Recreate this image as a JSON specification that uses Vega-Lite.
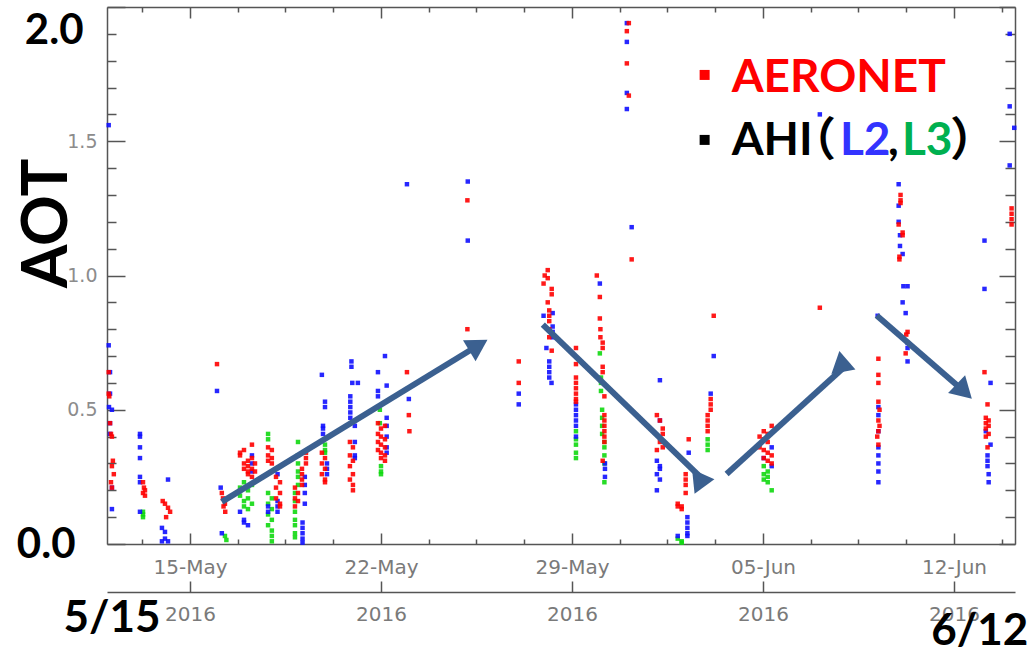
{
  "$schema": "https://vega.github.io/schema/vega-lite/v6.json",
  "width": 908,
  "height": 537,
  "autosize": {"type": "none"},
  "padding": {"left": 107, "top": 7, "right": 19, "bottom": 110},
  "background": "white",
  "config": {
    "view": {"stroke": null},
    "axis": {"grid": false, "domainColor": "#555555", "domainWidth": 1.5, "tickColor": "#555555", "tickWidth": 1.5, "labelFont": "DejaVu Sans", "labelColor": "#808080"}
  },
  "datasets": {
    "pts": [
      {"t":"2016-05-13T06:40Z","v":0.12,"s":"L3"},{"t":"2016-05-13T06:40Z","v":0.11,"s":"L3"},{"t":"2016-05-13T06:40Z","v":0.10,"s":"L3"},
      {"t":"2016-05-16T06:45Z","v":0.03,"s":"L3"},{"t":"2016-05-16T08:00Z","v":0.015,"s":"L3"},
      {"t":"2016-05-16T20:00Z","v":0.21,"s":"L3"},{"t":"2016-05-16T20:00Z","v":0.18,"s":"L3"},
      {"t":"2016-05-16T23:30Z","v":0.23,"s":"L3"},{"t":"2016-05-16T23:30Z","v":0.16,"s":"L3"},{"t":"2016-05-16T23:30Z","v":0.14,"s":"L3"},
      {"t":"2016-05-17T03:00Z","v":0.20,"s":"L3"},{"t":"2016-05-17T03:00Z","v":0.17,"s":"L3"},{"t":"2016-05-17T03:00Z","v":0.13,"s":"L3"},
      {"t":"2016-05-17T06:30Z","v":0.22,"s":"L3"},{"t":"2016-05-17T06:30Z","v":0.15,"s":"L3"},
      {"t":"2016-05-17T20:40Z","v":0.41,"s":"L3"},{"t":"2016-05-17T20:40Z","v":0.39,"s":"L3"},{"t":"2016-05-17T20:40Z","v":0.19,"s":"L3"},{"t":"2016-05-17T20:40Z","v":0.15,"s":"L3"},{"t":"2016-05-17T20:40Z","v":0.11,"s":"L3"},{"t":"2016-05-17T20:40Z","v":0.07,"s":"L3"},
      {"t":"2016-05-18T00:00Z","v":0.17,"s":"L3"},{"t":"2016-05-18T00:00Z","v":0.13,"s":"L3"},{"t":"2016-05-18T00:00Z","v":0.09,"s":"L3"},{"t":"2016-05-18T00:00Z","v":0.05,"s":"L3"},{"t":"2016-05-18T00:00Z","v":0.03,"s":"L3"},{"t":"2016-05-18T00:00Z","v":0.01,"s":"L3"},
      {"t":"2016-05-18T23:00Z","v":0.38,"s":"L3"},{"t":"2016-05-18T23:00Z","v":0.33,"s":"L3"},{"t":"2016-05-18T23:00Z","v":0.30,"s":"L3"},{"t":"2016-05-18T23:00Z","v":0.27,"s":"L3"},{"t":"2016-05-18T23:00Z","v":0.25,"s":"L3"},{"t":"2016-05-18T23:00Z","v":0.22,"s":"L3"},
      {"t":"2016-05-18T20:20Z","v":0.19,"s":"L3"},{"t":"2016-05-18T20:20Z","v":0.16,"s":"L3"},{"t":"2016-05-18T20:20Z","v":0.12,"s":"L3"},{"t":"2016-05-18T20:20Z","v":0.09,"s":"L3"},{"t":"2016-05-18T20:20Z","v":0.07,"s":"L3"},{"t":"2016-05-18T20:20Z","v":0.04,"s":"L3"},{"t":"2016-05-18T20:20Z","v":0.025,"s":"L3"},
      {"t":"2016-05-19T22:45Z","v":0.37,"s":"L3"},{"t":"2016-05-19T22:45Z","v":0.35,"s":"L3"},{"t":"2016-05-19T22:45Z","v":0.34,"s":"L3"},
      {"t":"2016-05-21T23:00Z","v":0.50,"s":"L3"},{"t":"2016-05-21T23:00Z","v":0.45,"s":"L3"},
      {"t":"2016-05-22T00:00Z","v":0.29,"s":"L3"},{"t":"2016-05-22T00:00Z","v":0.27,"s":"L3"},{"t":"2016-05-22T00:00Z","v":0.26,"s":"L3"},
      {"t":"2016-05-29T03:30Z","v":0.42,"s":"L3"},{"t":"2016-05-29T03:30Z","v":0.39,"s":"L3"},{"t":"2016-05-29T03:30Z","v":0.37,"s":"L3"},{"t":"2016-05-29T03:30Z","v":0.34,"s":"L3"},{"t":"2016-05-29T03:30Z","v":0.32,"s":"L3"},
      {"t":"2016-05-30T00:30Z","v":0.71,"s":"L3"},{"t":"2016-05-30T01:30Z","v":0.62,"s":"L3"},{"t":"2016-05-30T01:30Z","v":0.60,"s":"L3"},{"t":"2016-05-30T01:30Z","v":0.57,"s":"L3"},
      {"t":"2016-05-30T02:30Z","v":0.50,"s":"L3"},{"t":"2016-05-30T02:30Z","v":0.47,"s":"L3"},{"t":"2016-05-30T02:30Z","v":0.44,"s":"L3"},{"t":"2016-05-30T02:30Z","v":0.41,"s":"L3"},
      {"t":"2016-05-30T04:30Z","v":0.38,"s":"L3"},{"t":"2016-05-30T04:30Z","v":0.36,"s":"L3"},{"t":"2016-05-30T04:30Z","v":0.33,"s":"L3"},{"t":"2016-05-30T04:30Z","v":0.30,"s":"L3"},{"t":"2016-05-30T04:30Z","v":0.23,"s":"L3"},
      {"t":"2016-06-01T21:00Z","v":0.02,"s":"L3"},{"t":"2016-06-02T00:30Z","v":0.01,"s":"L3"},{"t":"2016-06-02T00:30Z","v":0.005,"s":"L3"},
      {"t":"2016-06-02T23:20Z","v":0.39,"s":"L3"},{"t":"2016-06-02T23:20Z","v":0.37,"s":"L3"},{"t":"2016-06-02T23:20Z","v":0.35,"s":"L3"},
      {"t":"2016-06-05T00:40Z","v":0.29,"s":"L3"},{"t":"2016-06-05T00:40Z","v":0.26,"s":"L3"},{"t":"2016-06-05T00:40Z","v":0.24,"s":"L3"},
      {"t":"2016-06-05T04:10Z","v":0.27,"s":"L3"},{"t":"2016-06-05T04:10Z","v":0.25,"s":"L3"},{"t":"2016-06-05T04:10Z","v":0.23,"s":"L3"},{"t":"2016-06-05T07:40Z","v":0.20,"s":"L3"},

      {"t":"2016-05-12T00:30Z","v":1.56,"s":"L2"},{"t":"2016-05-12T00:30Z","v":0.74,"s":"L2"},{"t":"2016-05-12T01:40Z","v":0.64,"s":"L2"},{"t":"2016-05-12T01:40Z","v":0.56,"s":"L2"},
      {"t":"2016-05-12T00:45Z","v":0.51,"s":"L2"},{"t":"2016-05-12T03:20Z","v":0.50,"s":"L2"},{"t":"2016-05-12T01:40Z","v":0.45,"s":"L2"},{"t":"2016-05-12T01:40Z","v":0.41,"s":"L2"},
      {"t":"2016-05-12T03:20Z","v":0.21,"s":"L2"},{"t":"2016-05-12T03:20Z","v":0.13,"s":"L2"},
      {"t":"2016-05-13T04:00Z","v":0.41,"s":"L2"},{"t":"2016-05-13T04:00Z","v":0.40,"s":"L2"},{"t":"2016-05-13T04:00Z","v":0.36,"s":"L2"},{"t":"2016-05-13T04:00Z","v":0.32,"s":"L2"},{"t":"2016-05-13T04:00Z","v":0.25,"s":"L2"},{"t":"2016-05-13T04:00Z","v":0.23,"s":"L2"},{"t":"2016-05-13T04:00Z","v":0.12,"s":"L2"},
      {"t":"2016-05-14T04:40Z","v":0.24,"s":"L2"},{"t":"2016-05-13T23:20Z","v":0.06,"s":"L2"},{"t":"2016-05-14T02:00Z","v":0.045,"s":"L2"},{"t":"2016-05-14T02:00Z","v":0.02,"s":"L2"},{"t":"2016-05-14T04:40Z","v":0.01,"s":"L2"},{"t":"2016-05-13T23:20Z","v":0.01,"s":"L2"},
      {"t":"2016-05-15T23:45Z","v":0.57,"s":"L2"},{"t":"2016-05-16T03:00Z","v":0.21,"s":"L2"},{"t":"2016-05-16T04:00Z","v":0.04,"s":"L2"},
      {"t":"2016-05-16T20:00Z","v":0.12,"s":"L2"},{"t":"2016-05-16T23:30Z","v":0.09,"s":"L2"},{"t":"2016-05-16T23:30Z","v":0.08,"s":"L2"},{"t":"2016-05-17T03:00Z","v":0.07,"s":"L2"},
      {"t":"2016-05-17T06:30Z","v":0.33,"s":"L2"},{"t":"2016-05-17T06:30Z","v":0.30,"s":"L2"},{"t":"2016-05-17T06:30Z","v":0.27,"s":"L2"},
      {"t":"2016-05-18T05:00Z","v":0.26,"s":"L2"},{"t":"2016-05-18T05:00Z","v":0.16,"s":"L2"},{"t":"2016-05-18T05:00Z","v":0.14,"s":"L2"},{"t":"2016-05-18T05:00Z","v":0.12,"s":"L2"},
      {"t":"2016-05-17T20:40Z","v":0.14,"s":"L2"},{"t":"2016-05-17T20:40Z","v":0.12,"s":"L2"},
      {"t":"2016-05-19T05:00Z","v":0.25,"s":"L2"},{"t":"2016-05-19T05:00Z","v":0.22,"s":"L2"},{"t":"2016-05-19T05:00Z","v":0.19,"s":"L2"},{"t":"2016-05-19T05:00Z","v":0.15,"s":"L2"},
      {"t":"2016-05-19T03:00Z","v":0.08,"s":"L2"},{"t":"2016-05-19T03:00Z","v":0.06,"s":"L2"},{"t":"2016-05-19T03:00Z","v":0.04,"s":"L2"},{"t":"2016-05-19T03:00Z","v":0.02,"s":"L2"},{"t":"2016-05-19T03:00Z","v":0.005,"s":"L2"},
      {"t":"2016-05-19T20:00Z","v":0.63,"s":"L2"},{"t":"2016-05-19T22:45Z","v":0.53,"s":"L2"},{"t":"2016-05-19T22:45Z","v":0.51,"s":"L2"},
      {"t":"2016-05-19T21:00Z","v":0.44,"s":"L2"},{"t":"2016-05-19T21:00Z","v":0.43,"s":"L2"},{"t":"2016-05-19T21:00Z","v":0.41,"s":"L2"},
      {"t":"2016-05-20T00:30Z","v":0.30,"s":"L2"},{"t":"2016-05-20T00:30Z","v":0.28,"s":"L2"},{"t":"2016-05-20T00:30Z","v":0.26,"s":"L2"},
      {"t":"2016-05-20T22:00Z","v":0.68,"s":"L2"},{"t":"2016-05-20T22:00Z","v":0.66,"s":"L2"},{"t":"2016-05-20T22:45Z","v":0.60,"s":"L2"},{"t":"2016-05-21T03:40Z","v":0.60,"s":"L2"},
      {"t":"2016-05-20T21:00Z","v":0.55,"s":"L2"},{"t":"2016-05-20T21:00Z","v":0.53,"s":"L2"},{"t":"2016-05-20T21:00Z","v":0.51,"s":"L2"},{"t":"2016-05-20T21:00Z","v":0.49,"s":"L2"},{"t":"2016-05-20T21:00Z","v":0.47,"s":"L2"},
      {"t":"2016-05-21T01:00Z","v":0.44,"s":"L2"},{"t":"2016-05-21T01:00Z","v":0.38,"s":"L2"},{"t":"2016-05-21T01:00Z","v":0.33,"s":"L2"},{"t":"2016-05-21T01:00Z","v":0.32,"s":"L2"},
      {"t":"2016-05-22T03:30Z","v":0.70,"s":"L2"},{"t":"2016-05-21T21:20Z","v":0.64,"s":"L2"},{"t":"2016-05-22T05:00Z","v":0.59,"s":"L2"},{"t":"2016-05-21T21:20Z","v":0.57,"s":"L2"},{"t":"2016-05-21T21:20Z","v":0.55,"s":"L2"},
      {"t":"2016-05-22T05:00Z","v":0.47,"s":"L2"},{"t":"2016-05-22T05:00Z","v":0.44,"s":"L2"},{"t":"2016-05-22T05:00Z","v":0.40,"s":"L2"},{"t":"2016-05-22T05:00Z","v":0.36,"s":"L2"},{"t":"2016-05-22T05:00Z","v":0.34,"s":"L2"},
      {"t":"2016-05-22T22:50Z","v":1.34,"s":"L2"},{"t":"2016-05-23T00:30Z","v":0.54,"s":"L2"},
      {"t":"2016-05-25T04:20Z","v":1.35,"s":"L2"},{"t":"2016-05-25T04:20Z","v":1.13,"s":"L2"},
      {"t":"2016-05-27T01:10Z","v":0.56,"s":"L2"},{"t":"2016-05-27T01:10Z","v":0.52,"s":"L2"},
      {"t":"2016-05-27T23:00Z","v":0.85,"s":"L2"},{"t":"2016-05-28T07:00Z","v":0.86,"s":"L2"},{"t":"2016-05-28T07:00Z","v":0.81,"s":"L2"},{"t":"2016-05-28T07:00Z","v":0.79,"s":"L2"},{"t":"2016-05-28T07:00Z","v":0.77,"s":"L2"},
      {"t":"2016-05-28T01:30Z","v":0.73,"s":"L2"},{"t":"2016-05-28T04:00Z","v":0.68,"s":"L2"},{"t":"2016-05-28T04:00Z","v":0.66,"s":"L2"},{"t":"2016-05-28T04:00Z","v":0.64,"s":"L2"},{"t":"2016-05-28T04:00Z","v":0.62,"s":"L2"},{"t":"2016-05-28T06:00Z","v":0.60,"s":"L2"},
      {"t":"2016-05-29T03:30Z","v":0.52,"s":"L2"},{"t":"2016-05-29T03:30Z","v":0.50,"s":"L2"},{"t":"2016-05-29T03:30Z","v":0.48,"s":"L2"},{"t":"2016-05-29T03:30Z","v":0.46,"s":"L2"},{"t":"2016-05-29T03:30Z","v":0.44,"s":"L2"},{"t":"2016-05-29T03:30Z","v":0.40,"s":"L2"},
      {"t":"2016-05-30T00:30Z","v":0.97,"s":"L2"},{"t":"2016-05-30T05:00Z","v":0.30,"s":"L2"},{"t":"2016-05-30T05:00Z","v":0.28,"s":"L2"},{"t":"2016-05-30T05:00Z","v":0.25,"s":"L2"},
      {"t":"2016-05-31T00:15Z","v":1.94,"s":"L2"},{"t":"2016-05-31T00:15Z","v":1.87,"s":"L2"},{"t":"2016-05-31T00:15Z","v":1.68,"s":"L2"},{"t":"2016-05-31T00:15Z","v":1.62,"s":"L2"},{"t":"2016-05-31T04:30Z","v":1.18,"s":"L2"},
      {"t":"2016-06-01T05:20Z","v":0.61,"s":"L2"},{"t":"2016-06-01T05:20Z","v":0.46,"s":"L2"},{"t":"2016-06-01T02:40Z","v":0.31,"s":"L2"},{"t":"2016-06-01T02:40Z","v":0.26,"s":"L2"},{"t":"2016-06-01T02:40Z","v":0.20,"s":"L2"},
      {"t":"2016-06-01T05:20Z","v":0.29,"s":"L2"},{"t":"2016-06-01T05:20Z","v":0.28,"s":"L2"},{"t":"2016-06-01T05:20Z","v":0.24,"s":"L2"},
      {"t":"2016-06-02T06:40Z","v":0.34,"s":"L2"},{"t":"2016-06-02T05:30Z","v":0.10,"s":"L2"},{"t":"2016-06-02T05:30Z","v":0.08,"s":"L2"},{"t":"2016-06-02T05:30Z","v":0.06,"s":"L2"},{"t":"2016-06-02T05:30Z","v":0.04,"s":"L2"},{"t":"2016-06-02T05:30Z","v":0.03,"s":"L2"},{"t":"2016-06-01T21:00Z","v":0.03,"s":"L2"},
      {"t":"2016-06-03T04:40Z","v":0.70,"s":"L2"},{"t":"2016-06-03T02:00Z","v":0.56,"s":"L2"},
      {"t":"2016-06-05T07:40Z","v":0.36,"s":"L2"},{"t":"2016-06-05T07:40Z","v":0.29,"s":"L2"},{"t":"2016-06-05T00:40Z","v":0.32,"s":"L2"},
      {"t":"2016-06-07T02:00Z","v":1.60,"s":"L2"},
      {"t":"2016-06-09T04:50Z","v":0.85,"s":"L2"},{"t":"2016-06-09T05:30Z","v":0.51,"s":"L2"},{"t":"2016-06-09T05:30Z","v":0.48,"s":"L2"},{"t":"2016-06-09T05:30Z","v":0.42,"s":"L2"},{"t":"2016-06-09T05:30Z","v":0.36,"s":"L2"},
      {"t":"2016-06-09T05:30Z","v":0.33,"s":"L2"},{"t":"2016-06-09T05:30Z","v":0.30,"s":"L2"},{"t":"2016-06-09T05:30Z","v":0.27,"s":"L2"},{"t":"2016-06-09T05:30Z","v":0.23,"s":"L2"},
      {"t":"2016-06-09T23:20Z","v":1.34,"s":"L2"},{"t":"2016-06-09T23:20Z","v":1.26,"s":"L2"},{"t":"2016-06-09T23:20Z","v":1.20,"s":"L2"},{"t":"2016-06-10T00:30Z","v":1.15,"s":"L2"},{"t":"2016-06-10T00:30Z","v":1.11,"s":"L2"},
      {"t":"2016-06-10T02:50Z","v":1.08,"s":"L2"},{"t":"2016-06-10T03:30Z","v":0.96,"s":"L2"},{"t":"2016-06-10T07:10Z","v":0.96,"s":"L2"},{"t":"2016-06-10T02:50Z","v":0.90,"s":"L2"},{"t":"2016-06-10T05:30Z","v":0.86,"s":"L2"},
      {"t":"2016-06-10T07:10Z","v":0.75,"s":"L2"},{"t":"2016-06-10T07:10Z","v":0.73,"s":"L2"},{"t":"2016-06-10T07:10Z","v":0.68,"s":"L2"},
      {"t":"2016-06-13T02:50Z","v":1.13,"s":"L2"},{"t":"2016-06-13T02:50Z","v":0.95,"s":"L2"},{"t":"2016-06-13T08:10Z","v":0.60,"s":"L2"},{"t":"2016-06-13T08:10Z","v":0.37,"s":"L2"},
      {"t":"2016-06-13T05:30Z","v":0.33,"s":"L2"},{"t":"2016-06-13T05:30Z","v":0.31,"s":"L2"},{"t":"2016-06-13T05:30Z","v":0.29,"s":"L2"},{"t":"2016-06-13T06:30Z","v":0.26,"s":"L2"},{"t":"2016-06-13T06:30Z","v":0.23,"s":"L2"},{"t":"2016-06-13T04:00Z","v":0.42,"s":"L2"},
      {"t":"2016-06-14T01:00Z","v":1.90,"s":"L2"},{"t":"2016-06-14T01:00Z","v":1.63,"s":"L2"},{"t":"2016-06-14T05:00Z","v":1.55,"s":"L2"},{"t":"2016-06-14T01:00Z","v":1.41,"s":"L2"},

      {"t":"2016-05-12T00:30Z","v":0.64,"s":"AERONET"},{"t":"2016-05-12T00:30Z","v":0.56,"s":"AERONET"},{"t":"2016-05-12T01:00Z","v":0.55,"s":"AERONET"},{"t":"2016-05-12T01:40Z","v":0.45,"s":"AERONET"},
      {"t":"2016-05-12T02:30Z","v":0.41,"s":"AERONET"},{"t":"2016-05-12T03:20Z","v":0.40,"s":"AERONET"},{"t":"2016-05-12T04:10Z","v":0.31,"s":"AERONET"},{"t":"2016-05-12T03:20Z","v":0.29,"s":"AERONET"},
      {"t":"2016-05-12T05:00Z","v":0.26,"s":"AERONET"},{"t":"2016-05-12T02:30Z","v":0.23,"s":"AERONET"},{"t":"2016-05-12T03:20Z","v":0.21,"s":"AERONET"},
      {"t":"2016-05-13T06:40Z","v":0.23,"s":"AERONET"},{"t":"2016-05-13T07:30Z","v":0.21,"s":"AERONET"},{"t":"2016-05-13T08:25Z","v":0.20,"s":"AERONET"},{"t":"2016-05-13T06:40Z","v":0.19,"s":"AERONET"},{"t":"2016-05-13T08:25Z","v":0.18,"s":"AERONET"},
      {"t":"2016-05-14T00:00Z","v":0.16,"s":"AERONET"},{"t":"2016-05-14T02:00Z","v":0.15,"s":"AERONET"},{"t":"2016-05-14T04:40Z","v":0.135,"s":"AERONET"},{"t":"2016-05-14T06:30Z","v":0.12,"s":"AERONET"},{"t":"2016-05-14T03:00Z","v":0.10,"s":"AERONET"},
      {"t":"2016-05-15T23:45Z","v":0.67,"s":"AERONET"},
      {"t":"2016-05-16T04:00Z","v":0.19,"s":"AERONET"},{"t":"2016-05-16T05:00Z","v":0.17,"s":"AERONET"},{"t":"2016-05-16T06:45Z","v":0.15,"s":"AERONET"},{"t":"2016-05-16T05:30Z","v":0.14,"s":"AERONET"},{"t":"2016-05-16T07:00Z","v":0.12,"s":"AERONET"},
      {"t":"2016-05-16T20:00Z","v":0.34,"s":"AERONET"},{"t":"2016-05-16T20:00Z","v":0.33,"s":"AERONET"},{"t":"2016-05-16T23:30Z","v":0.35,"s":"AERONET"},{"t":"2016-05-16T23:30Z","v":0.30,"s":"AERONET"},{"t":"2016-05-16T23:30Z","v":0.28,"s":"AERONET"},
      {"t":"2016-05-17T03:00Z","v":0.31,"s":"AERONET"},{"t":"2016-05-17T03:00Z","v":0.29,"s":"AERONET"},{"t":"2016-05-17T03:00Z","v":0.27,"s":"AERONET"},{"t":"2016-05-17T03:00Z","v":0.26,"s":"AERONET"},
      {"t":"2016-05-17T06:30Z","v":0.37,"s":"AERONET"},{"t":"2016-05-17T06:30Z","v":0.32,"s":"AERONET"},{"t":"2016-05-17T06:30Z","v":0.28,"s":"AERONET"},{"t":"2016-05-17T06:30Z","v":0.25,"s":"AERONET"},
      {"t":"2016-05-17T09:10Z","v":0.30,"s":"AERONET"},{"t":"2016-05-17T09:10Z","v":0.27,"s":"AERONET"},
      {"t":"2016-05-17T20:40Z","v":0.36,"s":"AERONET"},{"t":"2016-05-17T20:40Z","v":0.33,"s":"AERONET"},{"t":"2016-05-17T20:40Z","v":0.31,"s":"AERONET"},
      {"t":"2016-05-18T00:00Z","v":0.35,"s":"AERONET"},{"t":"2016-05-18T00:00Z","v":0.32,"s":"AERONET"},{"t":"2016-05-18T00:00Z","v":0.30,"s":"AERONET"},
      {"t":"2016-05-18T03:40Z","v":0.25,"s":"AERONET"},{"t":"2016-05-18T03:40Z","v":0.21,"s":"AERONET"},{"t":"2016-05-18T03:40Z","v":0.17,"s":"AERONET"},
      {"t":"2016-05-18T07:10Z","v":0.23,"s":"AERONET"},{"t":"2016-05-18T07:10Z","v":0.19,"s":"AERONET"},{"t":"2016-05-18T07:10Z","v":0.15,"s":"AERONET"},{"t":"2016-05-18T07:10Z","v":0.14,"s":"AERONET"},
      {"t":"2016-05-18T20:20Z","v":0.21,"s":"AERONET"},{"t":"2016-05-18T20:20Z","v":0.17,"s":"AERONET"},{"t":"2016-05-18T20:20Z","v":0.14,"s":"AERONET"},
      {"t":"2016-05-18T23:00Z","v":0.19,"s":"AERONET"},{"t":"2016-05-18T23:00Z","v":0.16,"s":"AERONET"},
      {"t":"2016-05-19T02:30Z","v":0.28,"s":"AERONET"},{"t":"2016-05-19T02:30Z","v":0.26,"s":"AERONET"},{"t":"2016-05-19T02:30Z","v":0.24,"s":"AERONET"},{"t":"2016-05-19T02:30Z","v":0.22,"s":"AERONET"},
      {"t":"2016-05-19T06:00Z","v":0.34,"s":"AERONET"},{"t":"2016-05-19T06:00Z","v":0.32,"s":"AERONET"},{"t":"2016-05-19T06:00Z","v":0.30,"s":"AERONET"},
      {"t":"2016-05-19T20:00Z","v":0.34,"s":"AERONET"},{"t":"2016-05-19T20:00Z","v":0.30,"s":"AERONET"},{"t":"2016-05-19T20:00Z","v":0.26,"s":"AERONET"},
      {"t":"2016-05-19T22:45Z","v":0.32,"s":"AERONET"},{"t":"2016-05-19T22:45Z","v":0.28,"s":"AERONET"},{"t":"2016-05-19T22:45Z","v":0.24,"s":"AERONET"},{"t":"2016-05-19T22:45Z","v":0.23,"s":"AERONET"},
      {"t":"2016-05-20T20:40Z","v":0.38,"s":"AERONET"},{"t":"2016-05-20T20:40Z","v":0.33,"s":"AERONET"},{"t":"2016-05-20T20:40Z","v":0.29,"s":"AERONET"},{"t":"2016-05-20T20:40Z","v":0.24,"s":"AERONET"},
      {"t":"2016-05-20T23:20Z","v":0.36,"s":"AERONET"},{"t":"2016-05-20T23:20Z","v":0.31,"s":"AERONET"},{"t":"2016-05-20T23:20Z","v":0.26,"s":"AERONET"},{"t":"2016-05-20T23:20Z","v":0.22,"s":"AERONET"},{"t":"2016-05-20T23:20Z","v":0.20,"s":"AERONET"},
      {"t":"2016-05-21T21:20Z","v":0.45,"s":"AERONET"},{"t":"2016-05-21T21:20Z","v":0.41,"s":"AERONET"},{"t":"2016-05-21T21:20Z","v":0.38,"s":"AERONET"},{"t":"2016-05-21T21:20Z","v":0.35,"s":"AERONET"},
      {"t":"2016-05-22T00:00Z","v":0.43,"s":"AERONET"},{"t":"2016-05-22T00:00Z","v":0.40,"s":"AERONET"},{"t":"2016-05-22T00:00Z","v":0.37,"s":"AERONET"},{"t":"2016-05-22T00:00Z","v":0.34,"s":"AERONET"},{"t":"2016-05-22T00:00Z","v":0.32,"s":"AERONET"},
      {"t":"2016-05-22T03:30Z","v":0.44,"s":"AERONET"},{"t":"2016-05-22T03:30Z","v":0.39,"s":"AERONET"},{"t":"2016-05-22T03:30Z","v":0.36,"s":"AERONET"},{"t":"2016-05-22T03:30Z","v":0.33,"s":"AERONET"},{"t":"2016-05-22T03:30Z","v":0.31,"s":"AERONET"},
      {"t":"2016-05-22T22:50Z","v":0.64,"s":"AERONET"},{"t":"2016-05-23T00:30Z","v":0.48,"s":"AERONET"},{"t":"2016-05-23T01:00Z","v":0.42,"s":"AERONET"},
      {"t":"2016-05-25T04:00Z","v":1.28,"s":"AERONET"},{"t":"2016-05-25T04:00Z","v":0.80,"s":"AERONET"},
      {"t":"2016-05-27T01:10Z","v":0.68,"s":"AERONET"},{"t":"2016-05-27T01:10Z","v":0.60,"s":"AERONET"},
      {"t":"2016-05-28T02:40Z","v":1.02,"s":"AERONET"},{"t":"2016-05-28T00:00Z","v":1.00,"s":"AERONET"},{"t":"2016-05-28T02:40Z","v":0.99,"s":"AERONET"},{"t":"2016-05-27T23:00Z","v":0.97,"s":"AERONET"},
      {"t":"2016-05-28T06:10Z","v":0.95,"s":"AERONET"},{"t":"2016-05-28T06:10Z","v":0.93,"s":"AERONET"},{"t":"2016-05-28T02:40Z","v":0.90,"s":"AERONET"},
      {"t":"2016-05-28T04:00Z","v":0.87,"s":"AERONET"},{"t":"2016-05-28T04:00Z","v":0.85,"s":"AERONET"},{"t":"2016-05-28T04:00Z","v":0.83,"s":"AERONET"},{"t":"2016-05-28T04:00Z","v":0.80,"s":"AERONET"},{"t":"2016-05-28T04:00Z","v":0.77,"s":"AERONET"},{"t":"2016-05-28T06:10Z","v":0.72,"s":"AERONET"},
      {"t":"2016-05-29T03:30Z","v":0.73,"s":"AERONET"},{"t":"2016-05-29T03:30Z","v":0.67,"s":"AERONET"},{"t":"2016-05-29T03:30Z","v":0.62,"s":"AERONET"},{"t":"2016-05-29T03:30Z","v":0.60,"s":"AERONET"},
      {"t":"2016-05-29T03:30Z","v":0.58,"s":"AERONET"},{"t":"2016-05-29T03:30Z","v":0.56,"s":"AERONET"},{"t":"2016-05-29T03:30Z","v":0.54,"s":"AERONET"},{"t":"2016-05-29T03:30Z","v":0.53,"s":"AERONET"},
      {"t":"2016-05-29T21:50Z","v":1.00,"s":"AERONET"},{"t":"2016-05-30T00:30Z","v":0.92,"s":"AERONET"},{"t":"2016-05-30T00:30Z","v":0.84,"s":"AERONET"},{"t":"2016-05-30T01:00Z","v":0.80,"s":"AERONET"},{"t":"2016-05-30T01:00Z","v":0.77,"s":"AERONET"},
      {"t":"2016-05-30T03:00Z","v":0.75,"s":"AERONET"},{"t":"2016-05-30T03:00Z","v":0.73,"s":"AERONET"},{"t":"2016-05-30T03:00Z","v":0.66,"s":"AERONET"},{"t":"2016-05-30T03:00Z","v":0.64,"s":"AERONET"},
      {"t":"2016-05-30T04:30Z","v":0.55,"s":"AERONET"},{"t":"2016-05-30T04:30Z","v":0.48,"s":"AERONET"},{"t":"2016-05-30T04:30Z","v":0.46,"s":"AERONET"},{"t":"2016-05-30T04:30Z","v":0.44,"s":"AERONET"},
      {"t":"2016-05-30T04:30Z","v":0.42,"s":"AERONET"},{"t":"2016-05-30T04:30Z","v":0.40,"s":"AERONET"},{"t":"2016-05-30T04:30Z","v":0.38,"s":"AERONET"},{"t":"2016-05-30T03:00Z","v":0.31,"s":"AERONET"},
      {"t":"2016-05-31T02:00Z","v":1.94,"s":"AERONET"},{"t":"2016-05-31T00:15Z","v":1.91,"s":"AERONET"},{"t":"2016-05-31T00:15Z","v":1.79,"s":"AERONET"},{"t":"2016-05-31T02:00Z","v":1.67,"s":"AERONET"},{"t":"2016-05-31T04:30Z","v":1.06,"s":"AERONET"},
      {"t":"2016-06-01T02:40Z","v":0.48,"s":"AERONET"},{"t":"2016-06-01T02:40Z","v":0.35,"s":"AERONET"},{"t":"2016-06-01T05:20Z","v":0.46,"s":"AERONET"},{"t":"2016-06-01T05:20Z","v":0.38,"s":"AERONET"},
      {"t":"2016-06-01T07:50Z","v":0.43,"s":"AERONET"},{"t":"2016-06-01T07:50Z","v":0.41,"s":"AERONET"},{"t":"2016-06-01T07:50Z","v":0.36,"s":"AERONET"},
      {"t":"2016-06-02T06:40Z","v":0.39,"s":"AERONET"},{"t":"2016-06-02T04:00Z","v":0.26,"s":"AERONET"},{"t":"2016-06-02T04:00Z","v":0.24,"s":"AERONET"},{"t":"2016-06-02T04:00Z","v":0.22,"s":"AERONET"},{"t":"2016-06-02T04:00Z","v":0.19,"s":"AERONET"},
      {"t":"2016-06-01T21:00Z","v":0.15,"s":"AERONET"},{"t":"2016-06-01T21:00Z","v":0.14,"s":"AERONET"},{"t":"2016-06-02T00:30Z","v":0.13,"s":"AERONET"},{"t":"2016-06-02T00:30Z","v":0.14,"s":"AERONET"},
      {"t":"2016-06-03T04:40Z","v":0.85,"s":"AERONET"},{"t":"2016-06-03T02:00Z","v":0.54,"s":"AERONET"},{"t":"2016-06-03T02:00Z","v":0.52,"s":"AERONET"},{"t":"2016-06-03T02:00Z","v":0.50,"s":"AERONET"},
      {"t":"2016-06-02T23:20Z","v":0.48,"s":"AERONET"},{"t":"2016-06-02T23:20Z","v":0.46,"s":"AERONET"},{"t":"2016-06-02T23:20Z","v":0.44,"s":"AERONET"},{"t":"2016-06-02T23:20Z","v":0.42,"s":"AERONET"},
      {"t":"2016-06-04T21:00Z","v":0.40,"s":"AERONET"},{"t":"2016-06-04T21:00Z","v":0.36,"s":"AERONET"},
      {"t":"2016-06-05T00:40Z","v":0.42,"s":"AERONET"},{"t":"2016-06-05T00:40Z","v":0.39,"s":"AERONET"},{"t":"2016-06-05T00:40Z","v":0.35,"s":"AERONET"},{"t":"2016-06-05T00:40Z","v":0.32,"s":"AERONET"},
      {"t":"2016-06-05T04:10Z","v":0.41,"s":"AERONET"},{"t":"2016-06-05T04:10Z","v":0.38,"s":"AERONET"},{"t":"2016-06-05T04:10Z","v":0.34,"s":"AERONET"},{"t":"2016-06-05T04:10Z","v":0.31,"s":"AERONET"},
      {"t":"2016-06-05T07:40Z","v":0.44,"s":"AERONET"},{"t":"2016-06-05T07:40Z","v":0.33,"s":"AERONET"},{"t":"2016-06-05T07:40Z","v":0.30,"s":"AERONET"},
      {"t":"2016-06-07T02:00Z","v":0.88,"s":"AERONET"},
      {"t":"2016-06-09T05:30Z","v":0.69,"s":"AERONET"},{"t":"2016-06-09T05:30Z","v":0.63,"s":"AERONET"},{"t":"2016-06-09T05:30Z","v":0.60,"s":"AERONET"},{"t":"2016-06-09T05:30Z","v":0.53,"s":"AERONET"},
      {"t":"2016-06-09T06:30Z","v":0.50,"s":"AERONET"},{"t":"2016-06-09T05:30Z","v":0.46,"s":"AERONET"},{"t":"2016-06-09T06:30Z","v":0.44,"s":"AERONET"},{"t":"2016-06-09T05:30Z","v":0.42,"s":"AERONET"},
      {"t":"2016-06-09T04:30Z","v":0.40,"s":"AERONET"},{"t":"2016-06-09T05:30Z","v":0.37,"s":"AERONET"},
      {"t":"2016-06-10T01:00Z","v":1.30,"s":"AERONET"},{"t":"2016-06-10T01:00Z","v":1.28,"s":"AERONET"},{"t":"2016-06-10T01:00Z","v":1.27,"s":"AERONET"},{"t":"2016-06-09T23:20Z","v":1.19,"s":"AERONET"},
      {"t":"2016-06-10T02:50Z","v":1.16,"s":"AERONET"},{"t":"2016-06-10T02:50Z","v":1.15,"s":"AERONET"},{"t":"2016-06-10T00:00Z","v":1.07,"s":"AERONET"},{"t":"2016-06-10T00:00Z","v":1.06,"s":"AERONET"},
      {"t":"2016-06-10T07:10Z","v":0.79,"s":"AERONET"},{"t":"2016-06-10T06:00Z","v":0.78,"s":"AERONET"},{"t":"2016-06-10T05:30Z","v":0.71,"s":"AERONET"},
      {"t":"2016-06-13T02:50Z","v":0.64,"s":"AERONET"},{"t":"2016-06-13T05:30Z","v":0.52,"s":"AERONET"},{"t":"2016-06-13T04:00Z","v":0.47,"s":"AERONET"},{"t":"2016-06-13T04:00Z","v":0.45,"s":"AERONET"},
      {"t":"2016-06-13T04:00Z","v":0.43,"s":"AERONET"},{"t":"2016-06-13T04:00Z","v":0.40,"s":"AERONET"},{"t":"2016-06-13T06:30Z","v":0.46,"s":"AERONET"},{"t":"2016-06-13T06:30Z","v":0.44,"s":"AERONET"},
      {"t":"2016-06-13T06:30Z","v":0.41,"s":"AERONET"},{"t":"2016-06-13T05:30Z","v":0.36,"s":"AERONET"},
      {"t":"2016-06-14T02:40Z","v":1.25,"s":"AERONET"},{"t":"2016-06-14T02:40Z","v":1.23,"s":"AERONET"},{"t":"2016-06-14T02:40Z","v":1.21,"s":"AERONET"},{"t":"2016-06-14T02:40Z","v":1.19,"s":"AERONET"}
    ],
    "arrows": [
      {"id": 1, "t": "2016-05-16T04:00Z", "v": 0.157, "t2": "2016-05-25T13:40Z", "v2": 0.740},
      {"id": 2, "t": "2016-05-27T22:20Z", "v": 0.817, "t2": "2016-06-02T20:00Z", "v2": 0.237},
      {"id": 3, "t": "2016-06-03T16:00Z", "v": 0.261, "t2": "2016-06-08T00:30Z", "v2": 0.663},
      {"id": 4, "t": "2016-06-09T04:00Z", "v": 0.851, "t2": "2016-06-12T09:00Z", "v2": 0.568}
    ],
    "keys": [
      {"t": "2016-06-02T20:40Z", "v": 1.747, "s": "AERONET"},
      {"t": "2016-06-02T20:40Z", "v": 1.505, "s": "AHI"}
    ],
    "words": [
      {"t": "2016-06-03T20:25Z", "v": 1.736, "txt": "AERONET", "s": "AERONET"},
      {"t": "2016-06-03T20:25Z", "v": 1.50, "txt": "AHI", "s": "AHI"},
      {"t": "2016-06-05T23:45Z", "v": 1.50, "txt": "（", "s": "AHI"},
      {"t": "2016-06-07T19:40Z", "v": 1.50, "txt": "L2", "s": "L2t"},
      {"t": "2016-06-09T14:00Z", "v": 1.50, "txt": ",", "s": "AHI"},
      {"t": "2016-06-10T02:10Z", "v": 1.50, "txt": "L3", "s": "L3t"},
      {"t": "2016-06-11T20:25Z", "v": 1.50, "txt": "）", "s": "AHI"}
    ],
    "corner": [
      {"t": "2016-05-12T03:20Z", "v": -0.279, "txt": "5/15"},
      {"t": "2016-06-12T22:45Z", "v": -0.328, "txt": "6/12"}
    ]
  },
  "layer": [
    {
      "data": {"name": "pts"},
      "mark": {"type": "point", "shape": "square", "filled": true, "size": 20, "opacity": 0.9},
      "encoding": {
        "x": {
          "field": "t", "type": "temporal",
          "scale": {"type": "utc", "domain": [{"year": 2016, "month": 5, "date": 11, "hours": 23, "utc": true}, {"year": 2016, "month": 6, "date": 14, "hours": 5, "minutes": 40, "utc": true}]},
          "axis": {
            "orient": "bottom", "title": null,
            "values": [
              {"year":2016,"month":5,"date":13,"hours":6,"utc":true},{"year":2016,"month":5,"date":15,"utc":true},{"year":2016,"month":5,"date":16,"hours":18,"utc":true},
              {"year":2016,"month":5,"date":18,"hours":12,"utc":true},{"year":2016,"month":5,"date":20,"hours":6,"utc":true},{"year":2016,"month":5,"date":22,"utc":true},
              {"year":2016,"month":5,"date":23,"hours":18,"utc":true},{"year":2016,"month":5,"date":25,"hours":12,"utc":true},{"year":2016,"month":5,"date":27,"hours":6,"utc":true},
              {"year":2016,"month":5,"date":29,"utc":true},{"year":2016,"month":5,"date":30,"hours":18,"utc":true},{"year":2016,"month":6,"date":1,"hours":12,"utc":true},
              {"year":2016,"month":6,"date":3,"hours":6,"utc":true},{"year":2016,"month":6,"date":5,"utc":true},{"year":2016,"month":6,"date":6,"hours":18,"utc":true},
              {"year":2016,"month":6,"date":8,"hours":12,"utc":true},{"year":2016,"month":6,"date":10,"hours":6,"utc":true},{"year":2016,"month":6,"date":12,"utc":true},
              {"year":2016,"month":6,"date":13,"hours":18,"utc":true}
            ],
            "tickSize": {"condition": {"test": "utchours(datum.value) == 0", "value": -11}, "value": -5},
            "labelExpr": "utchours(datum.value) == 0 ? utcFormat(datum.value, '%d-%b') : ''",
            "labelFontSize": 20, "labelPadding": 24, "labelColor": "#7a7a7a",
            "labelOverlap": false, "labelBound": false, "labelFlush": false
          }
        },
        "y": {
          "field": "v", "type": "quantitative",
          "scale": {"domain": [0, 2], "nice": false, "zero": false},
          "axis": {
            "orient": "left",
            "values": [0,0.1,0.2,0.3,0.4,0.5,0.6,0.7,0.8,0.9,1,1.1,1.2,1.3,1.4,1.5,1.6,1.7,1.8,1.9,2],
            "tickSize": {"condition": {"test": "abs(datum.value*2 - round(datum.value*2)) < 0.001", "value": -18}, "value": -9},
            "labelExpr": "abs(datum.value*2 - round(datum.value*2)) < 0.001 ? format(datum.value, '.1f') : ''",
            "labelFontSize": {"condition": {"test": "datum.value == 0 || datum.value == 2", "value": 42}, "value": 19},
            "labelFontWeight": {"condition": {"test": "datum.value == 0 || datum.value == 2", "value": "bold"}, "value": "normal"},
            "labelColor": {"condition": {"test": "datum.value == 0 || datum.value == 2", "value": "#000000"}, "value": "#8c8c8c"},
            "labelFont": {"condition": {"test": "datum.value == 0 || datum.value == 2", "value": "Lato"}, "value": "DejaVu Sans"},
            "labelOffset": {"condition": {"test": "datum.value == 2", "value": 23}, "value": 0},
            "labelPadding": {"condition": [{"test": "datum.value == 2", "value": 42}, {"test": "datum.value == 0", "value": 50}], "value": 28},
            "labelOverlap": false, "labelBound": false, "labelFlush": false,
            "title": "AOT", "titleFont": "Lato", "titleFontSize": 63, "titleFontWeight": "bold", "titleColor": "#000000",
            "titleAngle": 270, "titleX": -60, "titleY": 216, "titleAlign": "center", "titleBaseline": "middle"
          }
        },
        "color": {"field": "s", "type": "nominal", "legend": null,
          "scale": {"domain": ["AERONET", "L2", "L3", "AHI", "L2t", "L3t"], "range": ["#ff0000", "#1010ff", "#10d810", "#000000", "#3333ff", "#00b050"]}}
      }
    },
    {
      "data": {"name": "arrows"},
      "mark": {"type": "rule", "color": "#3b6090", "strokeWidth": 6},
      "encoding": {
        "x": {"field": "t", "type": "temporal",
          "scale": {"type": "utc", "domain": [{"year": 2016, "month": 5, "date": 11, "hours": 23, "utc": true}, {"year": 2016, "month": 6, "date": 14, "hours": 5, "minutes": 40, "utc": true}]},
          "axis": {
            "orient": "top", "title": null, "labels": false,
            "values": [
              {"year":2016,"month":5,"date":13,"hours":6,"utc":true},{"year":2016,"month":5,"date":15,"utc":true},{"year":2016,"month":5,"date":16,"hours":18,"utc":true},
              {"year":2016,"month":5,"date":18,"hours":12,"utc":true},{"year":2016,"month":5,"date":20,"hours":6,"utc":true},{"year":2016,"month":5,"date":22,"utc":true},
              {"year":2016,"month":5,"date":23,"hours":18,"utc":true},{"year":2016,"month":5,"date":25,"hours":12,"utc":true},{"year":2016,"month":5,"date":27,"hours":6,"utc":true},
              {"year":2016,"month":5,"date":29,"utc":true},{"year":2016,"month":5,"date":30,"hours":18,"utc":true},{"year":2016,"month":6,"date":1,"hours":12,"utc":true},
              {"year":2016,"month":6,"date":3,"hours":6,"utc":true},{"year":2016,"month":6,"date":5,"utc":true},{"year":2016,"month":6,"date":6,"hours":18,"utc":true},
              {"year":2016,"month":6,"date":8,"hours":12,"utc":true},{"year":2016,"month":6,"date":10,"hours":6,"utc":true},{"year":2016,"month":6,"date":12,"utc":true},
              {"year":2016,"month":6,"date":13,"hours":18,"utc":true}
            ],
            "tickSize": {"condition": {"test": "utchours(datum.value) == 0", "value": -11}, "value": -5}
          }
        },
        "y": {"field": "v", "type": "quantitative",
          "scale": {"domain": [0, 2], "nice": false, "zero": false},
          "axis": {
            "orient": "right", "title": null, "labels": false,
            "values": [0,0.1,0.2,0.3,0.4,0.5,0.6,0.7,0.8,0.9,1,1.1,1.2,1.3,1.4,1.5,1.6,1.7,1.8,1.9,2],
            "tickSize": {"condition": {"test": "abs(datum.value*2 - round(datum.value*2)) < 0.001", "value": -16}, "value": -10}
          }
        },
        "x2": {"field": "t2"},
        "y2": {"field": "v2"}
      }
    },
    {
      "data": {"name": "arrows"},
      "mark": {"type": "point", "shape": "triangle-up", "filled": true, "size": 600, "color": "#3b6090", "opacity": 1},
      "encoding": {
        "x": {"field": "t2", "type": "temporal",
          "scale": {"type": "utc", "domain": [{"year": 2016, "month": 5, "date": 11, "hours": 23, "utc": true}, {"year": 2016, "month": 6, "date": 14, "hours": 5, "minutes": 40, "utc": true}]},
          "axis": {
            "orient": "bottom", "offset": 48, "title": null,
            "values": [
              {"year":2016,"month":5,"date":15,"utc":true},{"year":2016,"month":5,"date":22,"utc":true},{"year":2016,"month":5,"date":29,"utc":true},
              {"year":2016,"month":6,"date":5,"utc":true},{"year":2016,"month":6,"date":12,"utc":true}
            ],
            "tickSize": -11,
            "labelExpr": "utcFormat(datum.value, '%Y')",
            "labelFontSize": 20, "labelPadding": 23, "labelColor": "#7a7a7a",
            "labelOverlap": false, "labelBound": false, "labelFlush": false
          }
        },
        "y": {"field": "v2", "type": "quantitative", "scale": {"domain": [0, 2], "nice": false, "zero": false}, "axis": null},
        "angle": {"field": "id", "type": "ordinal", "legend": null, "scale": {"domain": [1, 2, 3, 4], "range": [59, 134, 48, 131]}}
      }
    },
    {
      "data": {"name": "keys"},
      "mark": {"type": "point", "shape": "square", "filled": true, "size": 100, "opacity": 1},
      "encoding": {
        "x": {"field": "t", "type": "temporal", "axis": null},
        "y": {"field": "v", "type": "quantitative", "axis": null},
        "color": {"field": "s", "type": "nominal", "legend": null,
          "scale": {"domain": ["AERONET", "L2", "L3", "AHI", "L2t", "L3t"], "range": ["#ff0000", "#1010ff", "#10d810", "#000000", "#3333ff", "#00b050"]}}
      }
    },
    {
      "data": {"name": "words"},
      "mark": {"type": "text", "align": "left", "baseline": "middle", "font": "Lato, 'Noto Sans CJK JP'", "fontWeight": "bold", "fontSize": 46},
      "encoding": {
        "x": {"field": "t", "type": "temporal", "axis": null},
        "y": {"field": "v", "type": "quantitative", "axis": null},
        "text": {"field": "txt"},
        "color": {"field": "s", "type": "nominal", "legend": null,
          "scale": {"domain": ["AERONET", "L2", "L3", "AHI", "L2t", "L3t"], "range": ["#ff0000", "#1010ff", "#10d810", "#000000", "#3333ff", "#00b050"]}}
      }
    },
    {
      "data": {"name": "corner"},
      "mark": {"type": "text", "align": "center", "baseline": "middle", "font": "Lato", "fontWeight": "bold", "fontSize": 44, "color": "#000000"},
      "encoding": {
        "x": {"field": "t", "type": "temporal", "axis": null},
        "y": {"field": "v", "type": "quantitative", "axis": null},
        "text": {"field": "txt"}
      }
    }
  ],
  "resolve": {"axis": {"x": "independent", "y": "independent"}}
}
